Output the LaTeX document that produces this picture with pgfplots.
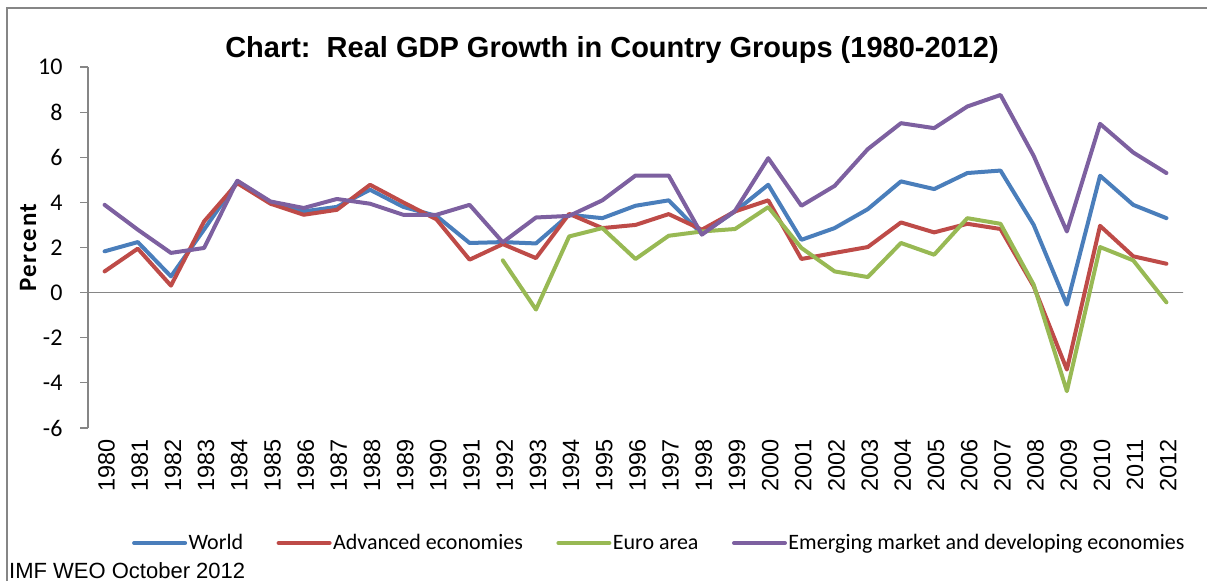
\documentclass[border=0pt]{standalone}
\usepackage{fontspec}
\setmainfont{Carlito}
\newfontfamily\arial{Liberation Sans}
\newfontfamily\carlitoLS[LetterSpace=6]{Carlito}
\usepackage{pgfplots}
\pgfplotsset{compat=1.18}
\definecolor{cWorld}{HTML}{4A7EBB}
\definecolor{cAdv}{HTML}{BE4B48}
\definecolor{cEuro}{HTML}{98B954}
\definecolor{cEm}{HTML}{7D60A0}
\definecolor{axgray}{HTML}{868686}
\begin{document}
\begin{tikzpicture}
\path[use as bounding box] (0pt,0pt) rectangle (1207pt,581pt);
\draw[color=axgray, line width=2pt] (7pt,0pt) -- (7pt,573pt) -- (1207pt,573pt);
\node[anchor=base, font=\arial\bfseries\fontsize{29}{32}\selectfont, inner sep=0pt] at (612pt,523pt) {Chart:\ \ Real GDP Growth in Country Groups (1980-2012)};
\node[anchor=base west, font=\arial\fontsize{22}{24}\selectfont, inner sep=0pt] at (9pt,3pt) {IMF WEO October 2012};
\begin{axis}[
  at={(88pt,153pt)}, anchor=south west,
  scale only axis, width=1095pt, height=361pt,
  xmin=1979.5, xmax=2012.5, ymin=-6, ymax=10,
  axis x line*=bottom, axis y line*=left,
  x axis line style={draw=none},
  y axis line style={draw=axgray, line width=1.2pt, -},
  xtick={1980,...,2012}, ytick={-6,-4,...,10},
  xtick style={draw=none},
  ytick style={draw=axgray, line width=1.2pt},
  tick align=outside, major tick length=8pt,
  /pgf/number format/.cd, 1000 sep={}, assume math mode=true,
  /pgfplots/.cd,
  yticklabel style={font=\fontsize{24}{26}\selectfont, xshift=-14pt},
  xticklabel style={font=\arial\fontsize{23.5}{25}\selectfont, rotate=90, anchor=east, yshift=-2pt},
  ylabel={Percent},
  ylabel style={font=\carlitoLS\bfseries\fontsize{25}{28}\selectfont, at={(axis description cs:-0.0548,0.5)}, anchor=center},
  legend columns=4,
  legend style={draw=none, fill=none, at={(axis description cs:0.5215,-0.3186)}, anchor=center,
    font=\fontsize{22}{24}\selectfont, nodes={inner xsep=1.5pt},
    /tikz/every even column/.append style={column sep=32pt}},
  legend image code/.code={\draw[#1] (0pt,0pt) -- (51pt,0pt);},
  every axis plot/.append style={line width=4pt, line join=round, line cap=round},
]
\addplot[axgray, line width=1.5pt, forget plot] coordinates {(1979.5,0) (2012.5,0)};
\addplot[cWorld] coordinates {
(1980,1.83) (1981,2.24) (1982,0.72) (1983,2.8) (1984,4.93) (1985,4.0) (1986,3.6) (1987,3.8) (1988,4.56) (1989,3.8) (1990,3.4)
(1991,2.2) (1992,2.24) (1993,2.18) (1994,3.45) (1995,3.3) (1996,3.85) (1997,4.09) (1998,2.6) (1999,3.6) (2000,4.78)
(2001,2.34) (2002,2.86) (2003,3.7) (2004,4.93) (2005,4.59) (2006,5.3) (2007,5.41) (2008,3.0) (2009,-0.53) (2010,5.18) (2011,3.89) (2012,3.3)};
\addlegendentry{World}
\addplot[cAdv] coordinates {
(1980,0.94) (1981,1.95) (1982,0.31) (1983,3.16) (1984,4.85) (1985,3.94) (1986,3.45) (1987,3.67) (1988,4.78) (1989,4.0) (1990,3.25)
(1991,1.46) (1992,2.15) (1993,1.53) (1994,3.49) (1995,2.86) (1996,3.0) (1997,3.48) (1998,2.79) (1999,3.6) (2000,4.09)
(2001,1.49) (2002,1.76) (2003,2.02) (2004,3.11) (2005,2.67) (2006,3.05) (2007,2.82) (2008,0.28) (2009,-3.41) (2010,2.96) (2011,1.61) (2012,1.28)};
\addlegendentry{Advanced economies}
\addplot[cEuro] coordinates {
(1992,1.43) (1993,-0.75) (1994,2.49) (1995,2.86) (1996,1.49) (1997,2.52) (1998,2.71) (1999,2.82) (2000,3.79)
(2001,1.98) (2002,0.94) (2003,0.69) (2004,2.2) (2005,1.68) (2006,3.3) (2007,3.05) (2008,0.35) (2009,-4.37) (2010,2.02) (2011,1.43) (2012,-0.43)};
\addlegendentry{Euro area}
\addplot[cEm] coordinates {
(1980,3.89) (1981,2.79) (1982,1.76) (1983,1.98) (1984,4.96) (1985,4.04) (1986,3.75) (1987,4.15) (1988,3.94) (1989,3.45) (1990,3.45)
(1991,3.89) (1992,2.23) (1993,3.33) (1994,3.4) (1995,4.09) (1996,5.19) (1997,5.19) (1998,2.57) (1999,3.63) (2000,5.96)
(2001,3.85) (2002,4.73) (2003,6.36) (2004,7.51) (2005,7.29) (2006,8.25) (2007,8.76) (2008,6.06) (2009,2.71) (2010,7.48) (2011,6.21) (2012,5.3)};
\addlegendentry{Emerging market and developing economies}
\end{axis}
\end{tikzpicture}
\end{document}
